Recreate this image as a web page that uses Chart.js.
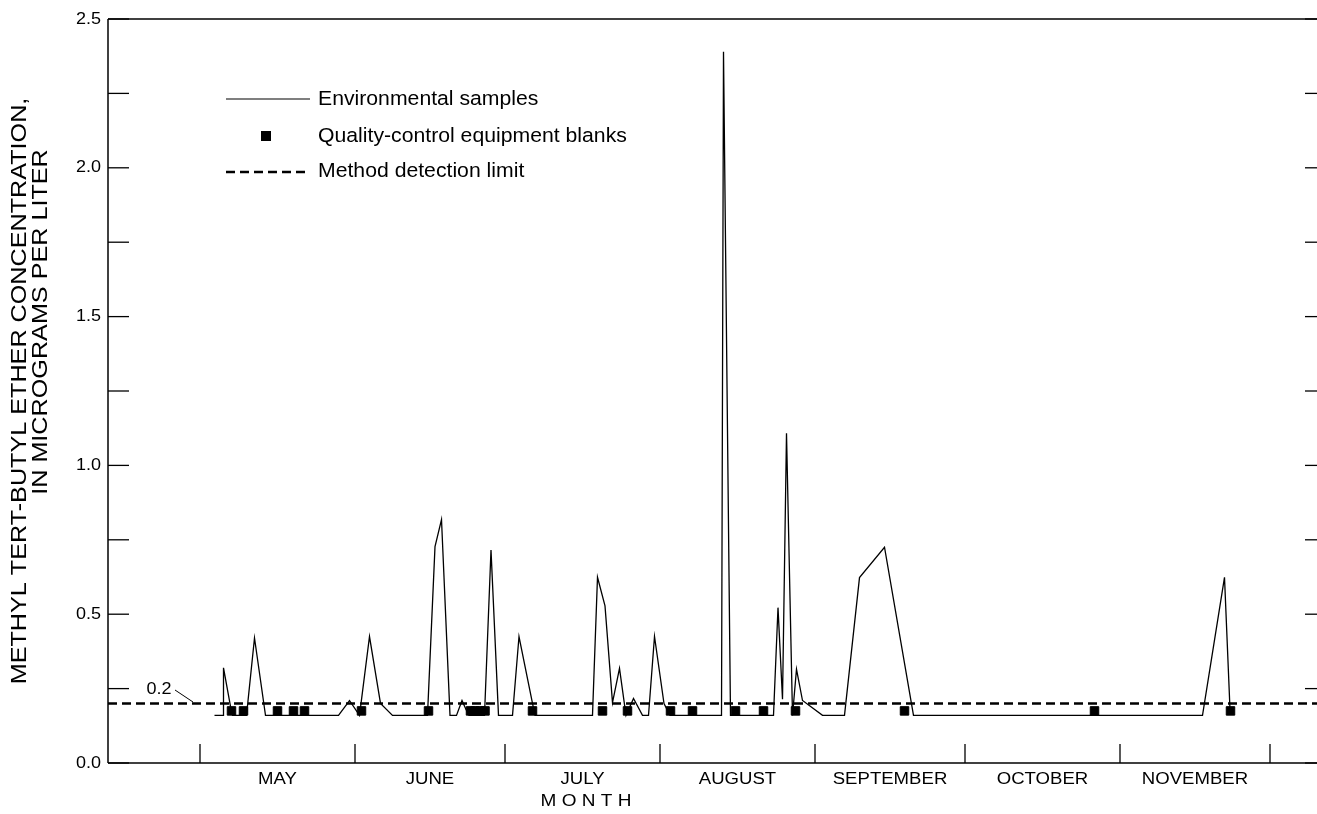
<!DOCTYPE html>
<html>
<head>
<meta charset="utf-8">
<title>MTBE concentration by month</title>
<script src="https://cdn.jsdelivr.net/npm/chart.js@4.4.1/dist/chart.umd.min.js"></script>
<style>
    html, body { margin: 0; padding: 0; background: #fff; }
    #wrap { width: 1317px; height: 814px; }
</style>
</head>
<body>
<div id="wrap"><canvas id="mtbeChart" width="1317" height="814"></canvas></div>
<script>
// x values are days counted from May 1
const envDays = [2.9, 4.6, 4.7, 6.1, 6.5, 9.3, 10.9, 13.1, 27.7, 29.9, 31.9, 33.9, 36.1, 38.5,
    45.5, 47.0, 48.3, 50.0, 51.3, 52.4, 53.2, 53.8, 56.9, 58.2, 59.7, 62.5, 63.8, 66.5, 67.0,
    78.5, 79.5, 81.0, 82.5, 83.9, 85.2, 86.7, 88.5, 89.7, 90.9, 92.8, 94.0,
    104.3, 104.7, 106.1, 114.7, 115.6, 116.5, 117.3, 118.5, 119.3, 120.5, 124.5,
    128.9, 131.9, 136.9, 142.7, 200.5, 204.9, 206.0];
const envValues = [0.16, 0.16, 0.32, 0.19, 0.16, 0.16, 0.42, 0.16, 0.16, 0.21, 0.16, 0.425, 0.20, 0.16,
    0.16, 0.727, 0.818, 0.16, 0.16, 0.21, 0.18, 0.16, 0.16, 0.716, 0.16, 0.16, 0.425, 0.20, 0.16,
    0.16, 0.624, 0.528, 0.203, 0.318, 0.16, 0.217, 0.16, 0.16, 0.425, 0.20, 0.16,
    0.16, 2.39, 0.16, 0.16, 0.522, 0.214, 1.108, 0.16, 0.315, 0.21, 0.16,
    0.16, 0.623, 0.725, 0.16, 0.16, 0.624, 0.18];

const blankDays = [6.3, 8.7, 15.5, 18.7, 20.9, 32.3, 45.7, 54.1, 55.0, 56.0, 57.0, 66.5,
    80.5, 85.5, 94.1, 98.5, 107.1, 112.7, 119.1, 140.9, 178.9, 206.1];
const blankValue = 0.175;
const detectionLimit = 0.2;

const monthNames = ['MAY', 'JUNE', 'JULY', 'AUGUST', 'SEPTEMBER', 'OCTOBER', 'NOVEMBER'];
const monthStarts = [0, 31, 61, 92, 123, 153, 184, 214];
const yLabelValues = [0, 0.5, 1.0, 1.5, 2.0, 2.5];
const yMinorValues = [0.25, 0.75, 1.25, 1.75, 2.25];

const xMin = -18.4;
const xMax = 223.4;
const FONT = '"Liberation Sans", Arial, sans-serif';
const STRETCH = 1.1;

// text is a bit wide in the original, so stretch it horizontally
function wideText(ctx, text, x, y, size, align) {
    ctx.save();
    ctx.translate(x, y);
    ctx.scale(STRETCH, 1);
    ctx.font = size + 'px ' + FONT;
    ctx.textAlign = align;
    ctx.textBaseline = 'middle';
    ctx.fillStyle = '#000';
    ctx.fillText(text, 0, 0);
    ctx.restore();
}

function upText(ctx, text, x, y, size) {
    ctx.save();
    ctx.translate(x, y);
    ctx.rotate(-Math.PI / 2);
    ctx.scale(STRETCH, 1);
    ctx.font = size + 'px ' + FONT;
    ctx.textAlign = 'center';
    ctx.textBaseline = 'middle';
    ctx.fillStyle = '#000';
    ctx.fillText(text, 0, 0);
    ctx.restore();
}

function line(ctx, x1, y1, x2, y2) {
    ctx.beginPath();
    ctx.moveTo(x1, y1);
    ctx.lineTo(x2, y2);
    ctx.stroke();
}

// axes, ticks, labels and legend
const framePlugin = {
    id: 'frame',
    afterDraw(chart) {
        const ctx = chart.ctx;
        const area = chart.chartArea;
        const xs = chart.scales.x;
        const ys = chart.scales.y;

        ctx.save();
        ctx.strokeStyle = '#000';
        ctx.lineWidth = 1.5;
        line(ctx, area.left, area.top, area.left, area.bottom);
        line(ctx, area.left, area.bottom, area.right, area.bottom);
        line(ctx, area.left, area.top, area.right, area.top);

        ctx.lineWidth = 1.3;
        yLabelValues.concat(yMinorValues).forEach(v => {
            const py = ys.getPixelForValue(v);
            line(ctx, area.left, py, area.left + 21, py);
            line(ctx, area.right - 12, py, area.right, py);
        });
        yLabelValues.forEach(v => {
            wideText(ctx, v.toFixed(1), area.left - 7, ys.getPixelForValue(v), 16.4, 'right');
        });

        monthStarts.forEach(d => {
            const px = xs.getPixelForValue(d);
            line(ctx, px, area.bottom - 19, px, area.bottom);
        });
        monthNames.forEach((name, i) => {
            const mid = (monthStarts[i] + monthStarts[i + 1]) / 2;
            wideText(ctx, name, xs.getPixelForValue(mid), 779, 16.9, 'center');
        });
        wideText(ctx, 'M O N T H', 586, 801, 17.3, 'center');

        upText(ctx, 'METHYL TERT-BUTYL ETHER CONCENTRATION,', 20, 391, 22.9);
        upText(ctx, 'IN MICROGRAMS PER LITER', 41, 322, 22.9);

        // label for the detection limit
        wideText(ctx, '0.2', 159, 689, 16.4, 'center');
        ctx.lineWidth = 1;
        line(ctx, 175, 690, 193, 702);

        // legend
        ctx.lineWidth = 1.2;
        line(ctx, 226, 99, 310, 99);
        wideText(ctx, 'Environmental samples', 318, 100, 19.3, 'left');
        ctx.fillStyle = '#000';
        ctx.fillRect(261, 131, 10, 10);
        wideText(ctx, 'Quality-control equipment blanks', 318, 137, 19.3, 'left');
        ctx.lineWidth = 2.5;
        ctx.setLineDash([9, 5]);
        line(ctx, 226, 172, 310, 172);
        ctx.setLineDash([]);
        wideText(ctx, 'Method detection limit', 318, 172, 19.3, 'left');
        ctx.restore();
    }
};

function buildChart() {
    const ctx = document.getElementById('mtbeChart');
    new Chart(ctx, {
        type: 'line',
        data: {
            datasets: [{
                label: 'Environmental samples',
                data: envDays.map((d, i) => ({ x: d, y: envValues[i] })),
                borderColor: '#000',
                borderWidth: 1.3,
                pointRadius: 0,
                tension: 0
            }, {
                label: 'Quality-control equipment blanks',
                data: blankDays.map(d => ({ x: d, y: blankValue })),
                showLine: false,
                pointStyle: 'rect',
                pointRadius: 6,
                backgroundColor: '#000',
                borderColor: '#000',
                borderWidth: 1
            }, {
                label: 'Method detection limit',
                data: [{ x: xMin, y: detectionLimit }, { x: xMax, y: detectionLimit }],
                borderColor: '#000',
                borderWidth: 2.5,
                borderDash: [9, 5],
                pointRadius: 0
            }]
        },
        options: {
            responsive: false,
            animation: false,
            devicePixelRatio: 1,
            layout: { autoPadding: false, padding: { left: 108, top: 19, right: 0, bottom: 51 } },
            plugins: {
                legend: { display: false },
                tooltip: { enabled: false }
            },
            scales: {
                x: { type: 'linear', min: xMin, max: xMax, display: false },
                y: { type: 'linear', min: 0, max: 2.5, display: false }
            }
        },
        plugins: [framePlugin]
    });
}

document.addEventListener('DOMContentLoaded', buildChart);
</script>
</body>
</html>
